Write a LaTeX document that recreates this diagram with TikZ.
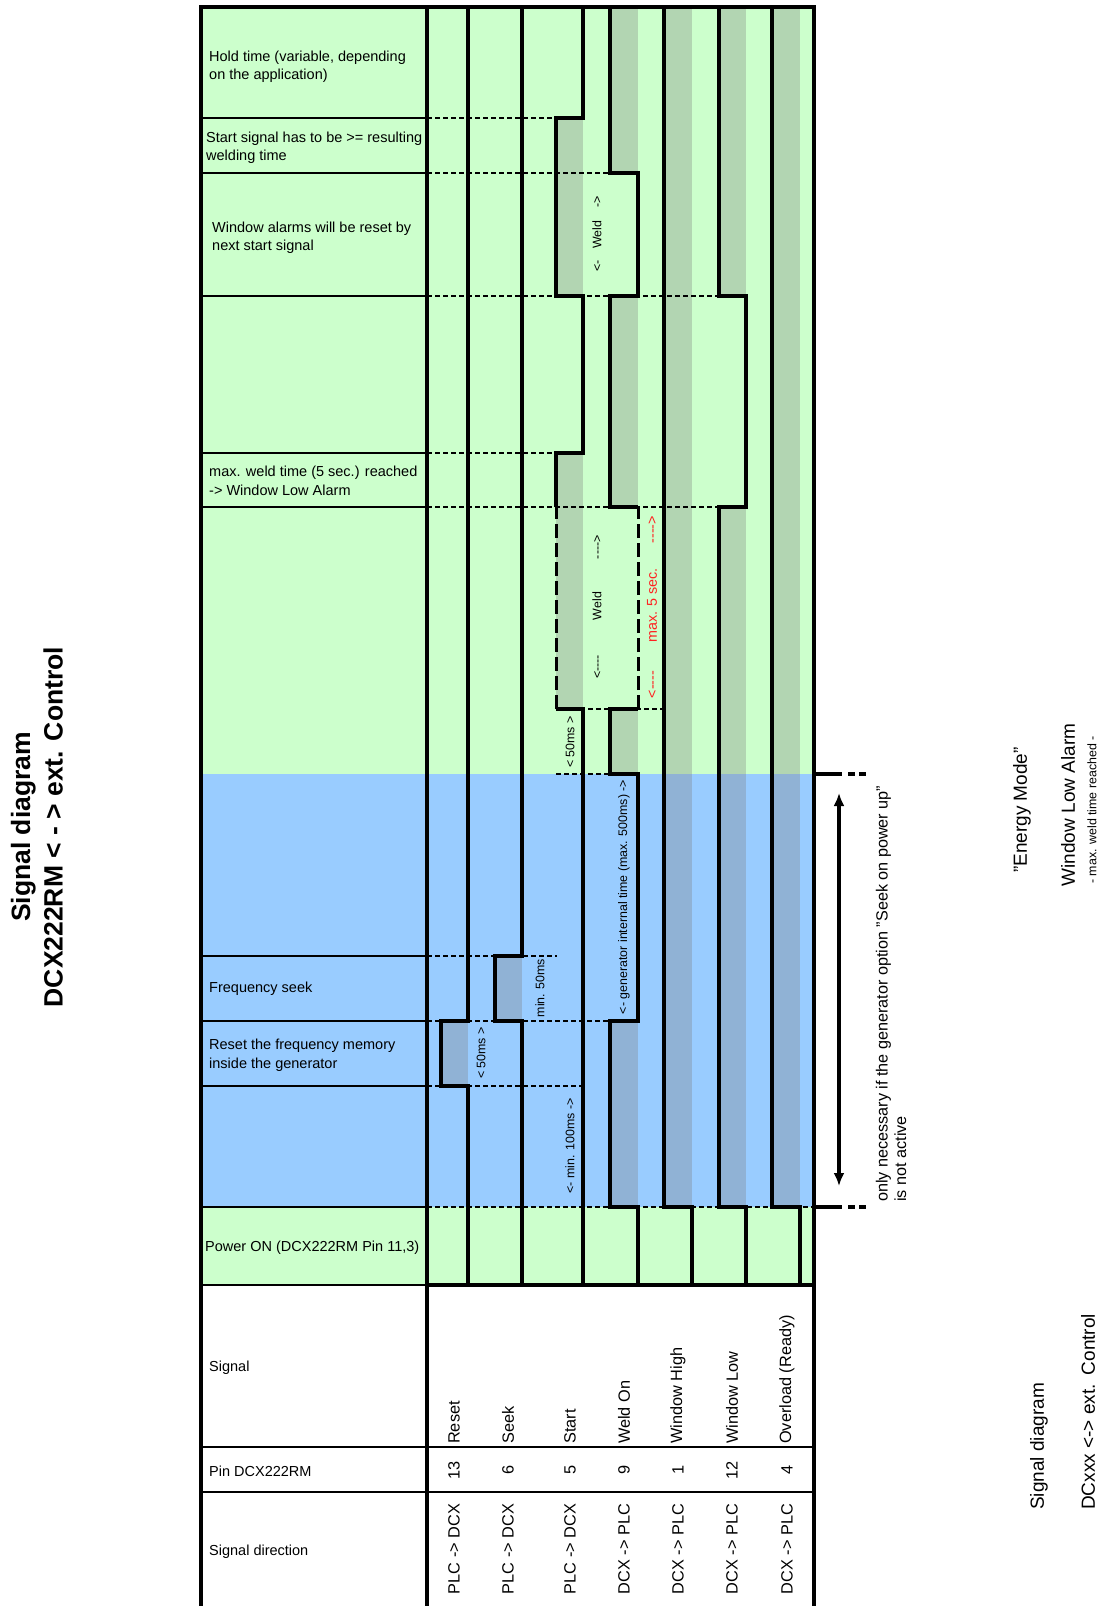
\documentclass[tikz,border=0pt]{standalone}
\usepackage{fontspec}
\setmainfont{Liberation Sans}
\usetikzlibrary{arrows.meta}
\definecolor{bggreen}{HTML}{CCFFCC}
\definecolor{bgblue}{HTML}{99CCFF}
\definecolor{txtred}{HTML}{FF2020}
\newcommand{\dsh}{-{}-{}-{}-}
\begin{document}
\begin{tikzpicture}[x=1pt,y=-1pt,
  border/.style={line width=4.5pt},
  wave/.style={line width=4.5pt, line join=miter},
  rowline/.style={line width=2pt},
  marker/.style={line width=2pt, dash pattern=on 5pt off 3pt},
  varline/.style={line width=3pt, dash pattern=on 14pt off 5pt},
  hatch/.style={fill=black!50, fill opacity=0.33},
  endmark/.style={line width=4pt, dash pattern=on 26pt off 6pt on 7pt off 4pt on 7pt off 60pt},
  lbl/.style={font=\fontsize{14.5}{18.5}\selectfont, align=left, anchor=west, inner sep=0pt},
  tlbl/.style={font=\fontsize{12.4}{14}\selectfont, rotate=90, inner sep=0pt},
  tab/.style={font=\fontsize{16.3}{18}\selectfont, rotate=90, inner sep=0pt},
  note/.style={font=\fontsize{16.2}{18.5}\selectfont, rotate=90, align=left, inner sep=0pt},
  side/.style={font=\fontsize{19}{22}\selectfont, rotate=90, inner sep=0pt}]
\useasboundingbox (0,0) rectangle (1099,1606);

% backgrounds
\fill[bggreen] (201,7) rectangle (814,774);
\fill[bgblue] (201,774) rectangle (814,1207);
\fill[bggreen] (201,1207) rectangle (814,1285);

% hatched (active) areas
\fill[hatch] (441,1021) rectangle (468,1086);
\fill[hatch] (495,956) rectangle (522,1021);
\fill[hatch] (556,507) rectangle (583,709);
\fill[hatch] (556,453) rectangle (583,507);
\fill[hatch] (556,118) rectangle (583,296);
\fill[hatch] (610,1021) rectangle (638,1207);
\fill[hatch] (610,709) rectangle (638,774);
\fill[hatch] (610,296) rectangle (638,507);
\fill[hatch] (610,7) rectangle (638,173);
\fill[hatch] (664,7) rectangle (692,1207);
\fill[hatch] (719,7) rectangle (746,296);
\fill[hatch] (719,507) rectangle (746,1207);
\fill[hatch] (772,7) rectangle (800,1207);

% row lines in label column
\foreach \yy in {118,173,296,453,507,956,1021,1086,1207}
  \draw[rowline] (201,\yy) -- (427,\yy);

% time markers
\draw[marker] (427,118) -- (556,118);
\draw[marker] (427,173) -- (610,173);
\draw[marker] (427,296) -- (719,296);
\draw[marker] (427,453) -- (556,453);
\draw[marker] (427,507) -- (719,507);
\draw[marker] (556,709) -- (662,709);
\draw[marker] (556,774) -- (610,774);
\draw[marker] (427,956) -- (557,956);
\draw[marker] (427,1021) -- (610,1021);
\draw[marker] (427,1086) -- (583,1086);
\draw[marker] (427,1207) -- (814,1207);

% waveforms
\draw[wave] (468,1285) -- (468,1086) -- (441,1086) -- (441,1021) -- (468,1021) -- (468,7);
\draw[wave] (522,1285) -- (522,1021) -- (495,1021) -- (495,956) -- (522,956) -- (522,7);
\draw[wave] (583,1285) -- (583,709) -- (556,709);
\draw[varline] (556,709) -- (556,507);
\draw[wave] (556,507) -- (556,453) -- (583,453) -- (583,296) -- (556,296) -- (556,118) -- (583,118) -- (583,7);
\draw[wave] (638,1285) -- (638,1207) -- (610,1207) -- (610,1021) -- (638,1021) -- (638,774) -- (610,774) -- (610,709) -- (638,709);
\draw[varline] (638,709) -- (638,507);
\draw[wave] (638,507) -- (610,507) -- (610,296) -- (638,296) -- (638,173) -- (610,173) -- (610,7);
\draw[wave] (692,1285) -- (692,1207) -- (664,1207) -- (664,7);
\draw[wave] (746,1285) -- (746,1207) -- (719,1207) -- (719,507) -- (746,507) -- (746,296) -- (719,296) -- (719,7);
\draw[wave] (800,1285) -- (800,1207) -- (772,1207) -- (772,7);

% frame
\draw[border] (199,7) -- (816,7);
\draw[border] (201,5) -- (201,1606);
\draw[border] (814,5) -- (814,1606);
\draw[border] (427,7) -- (427,1606);
\draw[line width=2.5pt] (201,1285) -- (427,1285);
\draw[border] (427,1285) -- (814,1285);
\draw[rowline] (201,1447) -- (814,1447);
\draw[rowline] (201,1492) -- (814,1492);

% label column texts
\node[lbl] (l1) at (209,67) {Hold time (variable, depending\\on the application)};
\node[lbl] (l2) at (206,147.5) {Start signal has to be >= resulting\\welding time};
\node[lbl] (l3) at (212,237.5) {Window alarms will be reset by\\next start signal};
\node[lbl] (l4) at (209,481) {max. weld time (5 sec.) reached\\-> Window Low Alarm};
\node[lbl] (l5) at (209,989) {Frequency seek};
\node[lbl] (l6) at (209,1055) {Reset the frequency memory\\inside the generator};
\node[lbl] (l7) at (205,1248) {Power ON (DCX222RM Pin 11,3)};
\node[lbl] (l8) at (209,1368) {Signal};
\node[lbl] (l9) at (209,1471) {Pin DCX222RM};
\node[lbl] (l10) at (209,1552) {Signal direction};

% timing annotations
\node[tlbl] (w1) at (597,234) {<-\hspace{12pt}Weld\hspace{13pt}->};
\node[tlbl] (w2) at (597,607) {<\dsh\hspace{35pt}Weld\hspace{33pt}\dsh>};
\node[tlbl, text=txtred, font=\fontsize{14.3}{16}\selectfont] (m5) at (652,607) {<\dsh\hspace{28pt}max. 5 sec.\hspace{25pt}\dsh>};
\node[tlbl] (t50a) at (570,742) {< 50ms >};
\node[tlbl] (tgen) at (624,897) {<- generator internal time (max. 500ms) ->};
\node[tlbl] (tmin50) at (540,988) {min. 50ms};
\node[tlbl] (t50b) at (481,1053) {< 50ms >};
\node[tlbl] (t100) at (570,1146) {<- min. 100ms ->};

% table texts
\foreach \xx/\nm/\pn/\dr [count=\i] in {454/Reset/13/PLC -> DCX, 508/Seek/6/PLC -> DCX, 570/Start/5/PLC -> DCX, 624/Weld On/9/DCX -> PLC, 678/Window High/1/DCX -> PLC, 732/Window Low/12/DCX -> PLC, 787/Overload (Ready)/4/DCX -> PLC}{
  \node[tab, anchor=west] (sig\i) at (\xx,1444) {\nm};
  \node[tab] (pin\i) at (\xx,1470) {\pn};
  \node[tab] (dir\i) at (\xx,1549) {\dr};
}

% right side
\draw[endmark] (816,774) -- (870,774);
\draw[endmark] (816,1207) -- (870,1207);
\coordinate (atop) at (839,793);
\coordinate (abot) at (839,1186);
\draw[line width=3.5pt, {Latex[length=13pt,width=11pt]}-{Latex[length=13pt,width=11pt]}] (atop) -- (abot);
\node[note, anchor=west] (nt) at (891,1202) {only necessary if the generator option "Seek on power up"\\is not active};

\node[side] (em) at (1022,810) {"Energy Mode"};
\node[side] (wla) at (1068,805) {Window Low Alarm};
\node[tlbl] (wlb) at (1092,810) {- max. weld time reached -};
\node[side, anchor=west] (sd1) at (1039,1510) {Signal diagram};
\node[side, anchor=west] (sd2) at (1088,1510) {DCxxx <-> ext.\hspace{9pt}Control};

% title
\node[font=\bfseries\fontsize{26.5}{32.5}\selectfont, rotate=90, align=center, inner sep=0pt] (title) at (37,827) {Signal diagram\\DCX222RM < - > ext.\hspace{10pt}Control};
\end{tikzpicture}
\end{document}
